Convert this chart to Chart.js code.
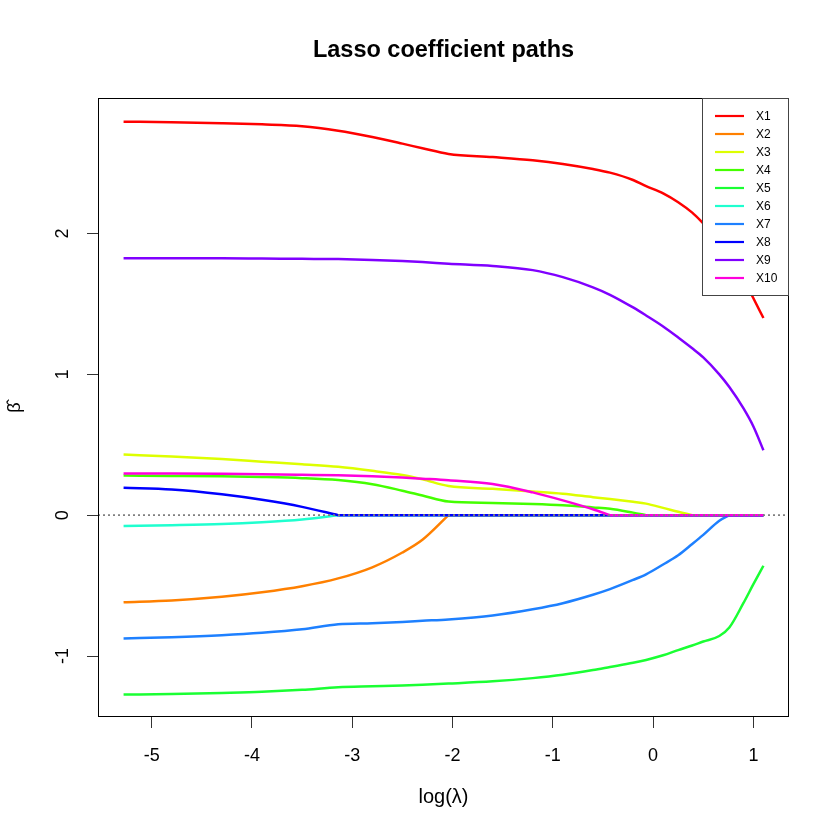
<!DOCTYPE html>
<html>
<head>
<meta charset="utf-8">
<script src="https://cdn.jsdelivr.net/npm/chart.js@4.4.1/dist/chart.umd.min.js"></script>
<style>
  html, body { margin: 0; padding: 0; background: #fff; }
</style>
</head>
<body>
<canvas id="lassoPlot" width="840" height="840"></canvas>
<script>
// x positions (log lambda) shared by all paths
const logLambda = [-5.28, -4.8, -4.3, -3.9, -3.5, -3.14, -2.8, -2.5, -2.3, -2.04, -1.6, -1.2, -0.9, -0.6, -0.43, -0.2, -0.07, 0.1, 0.25, 0.39, 0.5, 0.66, 0.76, 0.9, 1.0, 1.1];

const coefX1  = [2.794, 2.79, 2.783, 2.775, 2.762, 2.73, 2.685, 2.638, 2.605, 2.565, 2.543, 2.52, 2.494, 2.458, 2.432, 2.38, 2.337, 2.285, 2.222, 2.148, 2.072, 1.955, 1.855, 1.685, 1.54, 1.40];
const coefX2  = [-0.619, -0.606, -0.58, -0.548, -0.505, -0.449, -0.37, -0.265, -0.175, 0, 0, 0, 0, 0, 0, 0, 0, 0, 0, 0, 0, 0, 0, 0, 0, 0];
const coefX3  = [0.430, 0.417, 0.399, 0.38, 0.361, 0.343, 0.315, 0.285, 0.255, 0.207, 0.187, 0.168, 0.152, 0.128, 0.115, 0.095, 0.082, 0.052, 0.024, 0, 0, 0, 0, 0, 0, 0];
const coefX4  = [0.281, 0.279, 0.276, 0.271, 0.263, 0.249, 0.22, 0.174, 0.14, 0.097, 0.087, 0.079, 0.07, 0.055, 0.046, 0.018, 0, 0, 0, 0, 0, 0, 0, 0, 0, 0];
const coefX5  = [-1.274, -1.27, -1.262, -1.254, -1.24, -1.222, -1.215, -1.209, -1.204, -1.196, -1.18, -1.157, -1.133, -1.10, -1.078, -1.048, -1.028, -0.995, -0.958, -0.925, -0.897, -0.858, -0.798, -0.625, -0.49, -0.359];
const coefX6  = [-0.076, -0.071, -0.063, -0.05, -0.03, 0, 0, 0, 0, 0, 0, 0, 0, 0, 0, 0, 0, 0, 0, 0, 0, 0, 0, 0, 0, 0];
const coefX7  = [-0.875, -0.866, -0.852, -0.835, -0.81, -0.775, -0.767, -0.758, -0.75, -0.74, -0.712, -0.668, -0.625, -0.565, -0.525, -0.46, -0.42, -0.35, -0.285, -0.205, -0.14, -0.04, 0, 0, 0, 0];
const coefX8  = [0.194, 0.182, 0.148, 0.109, 0.059, 0, 0, 0, 0, 0, 0, 0, 0, 0, 0, 0, 0, 0, 0, 0, 0, 0, 0, 0, 0, 0];
const coefX9  = [1.825, 1.825, 1.824, 1.822, 1.82, 1.818, 1.812, 1.804, 1.797, 1.786, 1.77, 1.74, 1.69, 1.618, 1.565, 1.475, 1.418, 1.34, 1.262, 1.185, 1.12, 1.0, 0.91, 0.76, 0.63, 0.461];
const coefX10 = [0.296, 0.296, 0.294, 0.291, 0.287, 0.283, 0.276, 0.267, 0.259, 0.248, 0.222, 0.162, 0.105, 0.042, 0, 0, 0, 0, 0, 0, 0, 0, 0, 0, 0, 0];

const seriesNames = ['X1', 'X2', 'X3', 'X4', 'X5', 'X6', 'X7', 'X8', 'X9', 'X10'];
const seriesValues = [coefX1, coefX2, coefX3, coefX4, coefX5, coefX6, coefX7, coefX8, coefX9, coefX10];
const seriesColors = ['#FF0000', '#FF8000', '#DDFF00', '#44FF00', '#1AFF33', '#1FFFCF', '#1E80FF', '#0000FF', '#8000FF', '#FF00DD'];

const xTicks = [-5, -4, -3, -2, -1, 0, 1];
const yTicks = [-1, 0, 1, 2];

Chart.defaults.font.family = '"Liberation Sans", Arial, Helvetica, sans-serif';
Chart.defaults.color = '#000';

// Each path is smooth until its coefficient hits zero, then it stays flat.
// Split there so the smoothing keeps the sharp corner at the drop-out point.
const datasets = [];
seriesNames.forEach((name, k) => {
    const vals = seriesValues[k];
    const pts = logLambda.map((x, i) => ({x: x, y: vals[i]}));
    let zeroStart = vals.length;
    while (zeroStart > 0 && vals[zeroStart - 1] === 0) zeroStart--;
    const style = {
        label: name,
        borderColor: seriesColors[k],
        backgroundColor: seriesColors[k],
        borderWidth: 2.5,
        pointRadius: 0,
        fill: false,
        order: seriesNames.length - k // X10 drawn last, on top
    };
    if (zeroStart >= vals.length) {
        datasets.push({...style, data: pts, cubicInterpolationMode: 'monotone'});
    } else {
        datasets.push({...style, data: pts.slice(0, zeroStart + 1), cubicInterpolationMode: 'monotone'});
        datasets.push({...style, data: pts.slice(zeroStart), tension: 0});
    }
});

// dotted zero line, drawn over the paths like abline(h = 0, lty = 3)
const zeroLine = {
    id: 'zeroLine',
    afterDatasetsDraw(chart) {
        const {ctx, chartArea} = chart;
        const y = chart.scales.y.getPixelForValue(0);
        ctx.save();
        ctx.strokeStyle = '#808080';
        ctx.lineWidth = 1.6;
        ctx.setLineDash([2, 3]);
        ctx.beginPath();
        ctx.moveTo(chartArea.left, y);
        ctx.lineTo(chartArea.right, y);
        ctx.stroke();
        ctx.restore();
    }
};

// box round the plot plus the legend in the top-right corner
const boxAndLegend = {
    id: 'boxAndLegend',
    afterDraw(chart) {
        const {ctx, chartArea} = chart;
        ctx.save();
        ctx.strokeStyle = '#000';
        ctx.lineWidth = 1;
        ctx.strokeRect(chartArea.left + 0.5, chartArea.top + 0.5, chartArea.width - 1, chartArea.height - 1);

        const w = 87, rowH = 18;
        const h = rowH * seriesNames.length + 17;
        const left = chartArea.right - w, top = chartArea.top;
        ctx.fillStyle = '#fff';
        ctx.fillRect(left, top, w, h);
        ctx.strokeStyle = '#444';
        ctx.strokeRect(left + 0.5, top + 0.5, w - 1, h);

        ctx.font = '12px "Liberation Sans", Arial, sans-serif';
        ctx.textBaseline = 'middle';
        ctx.textAlign = 'left';
        seriesNames.forEach((name, i) => {
            const y = top + 18 + i * rowH;
            ctx.strokeStyle = seriesColors[i];
            ctx.lineWidth = 2.2;
            ctx.beginPath();
            ctx.moveTo(left + 13, y);
            ctx.lineTo(left + 42, y);
            ctx.stroke();
            ctx.fillStyle = '#000';
            ctx.fillText(name, left + 54, y + 0.5);
        });
        ctx.restore();
    }
};

new Chart(document.getElementById('lassoPlot'), {
    type: 'line',
    data: { datasets: datasets },
    options: {
        responsive: false,
        animation: false,
        events: [],
        layout: { padding: { top: 36, right: 51, bottom: 0, left: 0 } },
        plugins: {
            legend: { display: false },
            tooltip: { enabled: false },
            title: {
                display: true,
                fullSize: false, // centre over the plot region, as R does
                text: 'Lasso coefficient paths',
                font: { size: 23.5, weight: 'bold' },
                color: '#000',
                padding: { top: 0, bottom: 33.8 }
            }
        },
        scales: {
            x: {
                type: 'linear',
                min: -5.535,
                max: 1.355,
                afterBuildTicks: s => { s.ticks = xTicks.map(v => ({value: v})); },
                afterFit: s => { s.height = 123; },
                border: { display: false },
                grid: { drawOnChartArea: false, drawTicks: true, tickLength: 11, color: '#333' },
                ticks: { font: { size: 18 }, padding: 17, maxRotation: 0, autoSkip: false, color: '#000' },
                title: { display: true, text: 'log(λ)', font: { size: 20 }, color: '#000', padding: { top: 0, bottom: 31 } }
            },
            y: {
                type: 'linear',
                min: -1.433,
                max: 2.962,
                afterBuildTicks: s => { s.ticks = yTicks.map(v => ({value: v})); },
                afterFit: s => { s.width = 98; },
                border: { display: false },
                grid: { drawOnChartArea: false, drawTicks: true, tickLength: 11, color: '#333' },
                ticks: { font: { size: 18 }, padding: 16, minRotation: 90, maxRotation: 90, crossAlign: 'center', autoSkip: false, color: '#000' },
                title: { display: true, text: 'β\u0302', font: { size: 18 }, color: '#000', padding: { top: 4, bottom: 0 } }
            }
        }
    },
    plugins: [zeroLine, boxAndLegend]
});
</script>
</body>
</html>
